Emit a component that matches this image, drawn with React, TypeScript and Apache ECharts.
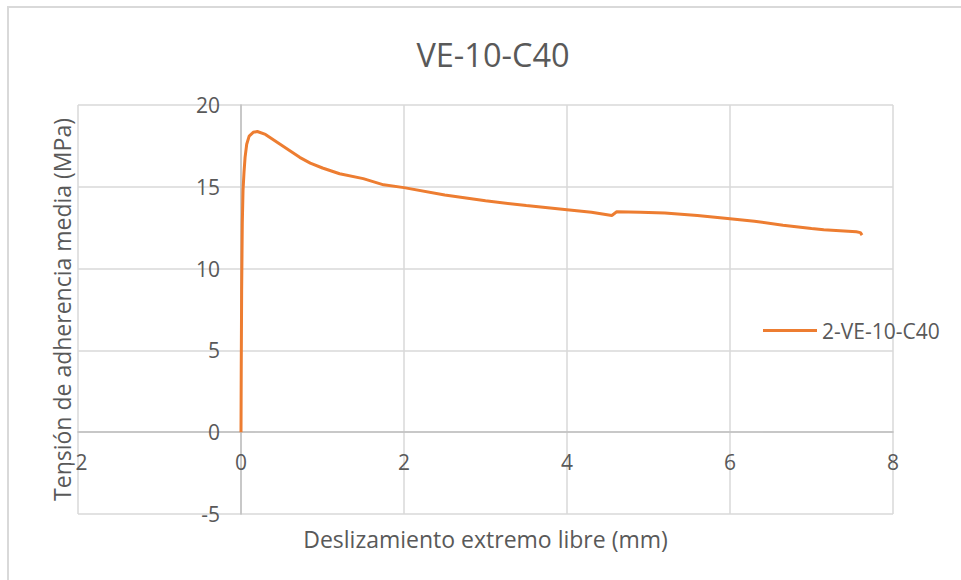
import React, { useEffect, useRef } from "react";
import * as echarts from "echarts";

const TITLE = "VE-10-C40";
const SERIES_NAME = "2-VE-10-C40";
const X_NAME = "Deslizamiento extremo libre (mm)";
const Y_NAME = "Tensión de adherencia media (MPa)";

// slip (mm)
const slip = [
  0, 0.003, 0.008, 0.016, 0.025, 0.037, 0.05, 0.07, 0.1, 0.15, 0.2, 0.3, 0.36,
  0.48, 0.6, 0.72, 0.85, 1.0, 1.21, 1.5, 1.75, 2.0, 2.5, 3.0, 3.5, 4.0, 4.3,
  4.55, 4.61, 4.9, 5.2, 5.6, 6.0, 6.3, 6.65, 7.0, 7.15, 7.4, 7.55, 7.6, 7.62,
];
// bond stress (MPa)
const stress = [
  0, 4, 8.7, 12.8, 14.8, 15.9, 16.8, 17.6, 18.1, 18.33, 18.38, 18.2, 18.0,
  17.6, 17.2, 16.8, 16.45, 16.15, 15.8, 15.5, 15.12, 14.95, 14.5, 14.15, 13.85,
  13.6, 13.45, 13.25, 13.47, 13.44, 13.4, 13.25, 13.05, 12.9, 12.65, 12.45,
  12.37, 12.3, 12.25, 12.2, 12.05,
];

const X_MIN = -2;
const X_MAX = 8;
const X_STEP = 2;
const Y_MIN = -5;
const Y_MAX = 20;
const Y_STEP = 5;

const FONT = "Open Sans";
const TEXT = "#595959";

const W = 961;
const H = 580;
const G_LEFT = 78;
const G_RIGHT = 68;
const G_TOP = 105;
const G_BOTTOM = 66;

export default function App() {
  const ref = useRef<HTMLDivElement>(null);
  useEffect(() => {
    if (!ref.current) return;
    const chart = echarts.init(ref.current, undefined, { renderer: "svg" });
    const data = slip.map((x, i) => [x, stress[i]]);
    const gw = W - G_LEFT - G_RIGHT;
    const gh = H - G_TOP - G_BOTTOM;
    // shift axes so that they cross at zero (Excel style)
    const xAxisOffset = -(gh * (0 - Y_MIN)) / (Y_MAX - Y_MIN);
    const yAxisOffset = -(gw * (0 - X_MIN)) / (X_MAX - X_MIN);
    chart.setOption({
      animation: false,
      backgroundColor: "#ffffff",
      textStyle: { fontFamily: FONT },
      title: {
        text: TITLE,
        left: 488,
        top: 33,
        textAlign: "center",
        textStyle: { fontFamily: FONT, fontSize: 32.5, fontWeight: "normal", color: TEXT },
      },
      graphic: [
        {
          type: "rect",
          shape: { x: 8, y: 7, width: 1000, height: 1000 },
          style: { fill: "none", stroke: "#D9D9D9", lineWidth: 2 },
          silent: true,
        },
      ],
      legend: {
        orient: "vertical",
        left: 763,
        top: 320,
        itemWidth: 54,
        itemHeight: 3,
        itemGap: 5,
        icon: "rect",
        data: [SERIES_NAME],
        textStyle: { fontFamily: FONT, fontSize: 21, color: TEXT },
        padding: 0,
      },
      grid: {
        left: G_LEFT,
        right: G_RIGHT,
        top: G_TOP,
        bottom: G_BOTTOM,
        containLabel: false,
        outerBoundsMode: "none",
      },
      xAxis: {
        type: "value",
        min: X_MIN,
        max: X_MAX,
        interval: X_STEP,
        offset: xAxisOffset,
        name: X_NAME,
        nameLocation: "middle",
        nameGap: 95,
        nameTextStyle: { fontFamily: FONT, fontSize: 23, color: TEXT },
        axisLine: { show: true, onZero: false, lineStyle: { color: "#BFBFBF", width: 1.5 } },
        axisTick: { show: false },
        axisLabel: { fontFamily: FONT, fontSize: 21, color: TEXT, margin: 19 },
        splitLine: { show: true, lineStyle: { color: "#D9D9D9", width: 1.5 } },
      },
      yAxis: {
        type: "value",
        min: Y_MIN,
        max: Y_MAX,
        interval: Y_STEP,
        offset: yAxisOffset,
        name: Y_NAME,
        nameLocation: "middle",
        nameGap: 168,
        nameTextStyle: { fontFamily: FONT, fontSize: 23, color: TEXT },
        axisLine: { show: true, onZero: false, lineStyle: { color: "#BFBFBF", width: 1.5 } },
        axisTick: { show: false },
        axisLabel: { fontFamily: FONT, fontSize: 21, color: TEXT, margin: 21 },
        splitLine: { show: true, lineStyle: { color: "#D9D9D9", width: 1.5 } },
      },
      series: [
        {
          name: SERIES_NAME,
          type: "line",
          data,
          showSymbol: false,
          symbol: "none",
          smooth: false,
          color: "#ED7D31",
          lineStyle: { color: "#ED7D31", width: 3 },
        },
      ],
    });
    return () => chart.dispose();
  }, []);
  return (
    <div
      ref={ref}
      style={{ position: "absolute", left: 0, top: 0, width: W, height: H }}
    />
  );
}
